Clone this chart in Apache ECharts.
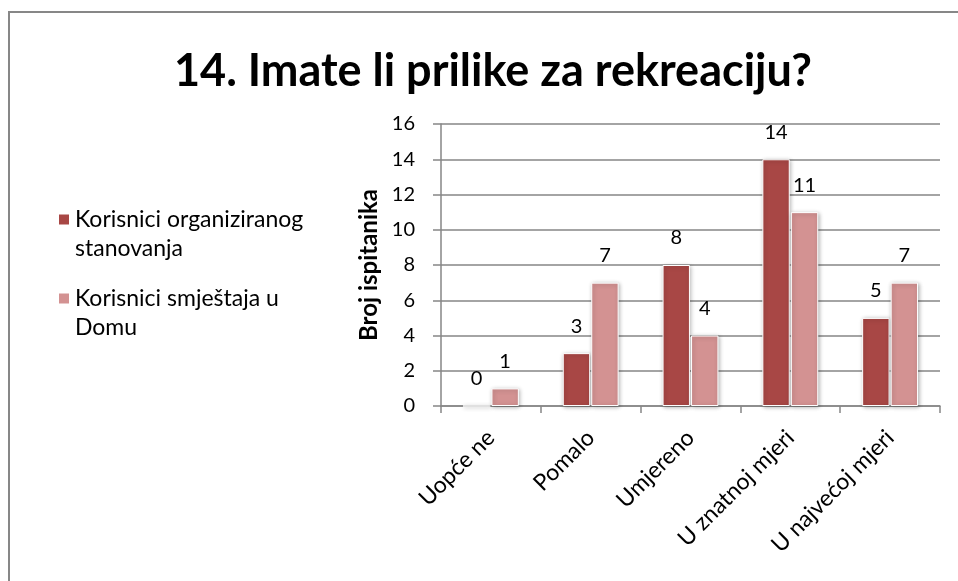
<!DOCTYPE html>
<html>
<head>
<meta charset="utf-8">
<script src="https://cdn.jsdelivr.net/npm/echarts@6/dist/echarts.min.js"></script>
<style>
  html, body { margin: 0; padding: 0; background: #fff; }
  #chart { width: 958px; height: 581px; }
</style>
</head>
<body>
<div id="chart"></div>
<script>
// kategorije odgovora
const categories = ["Uopće ne", "Pomalo", "Umjereno", "U znatnoj mjeri", "U najvećoj mjeri"];
// Korisnici organiziranog stanovanja
const organiziranoStanovanje = [0, 3, 8, 14, 5];
// Korisnici smještaja u Domu
const smjestajDom = [1, 7, 4, 11, 7];
const yTicks = [0, 2, 4, 6, 8, 10, 12, 14, 16];

const FONT = "Lato";
const chart = echarts.init(document.getElementById("chart"));

const barLabel = {
  show: true,
  position: "top",
  distance: 17,
  fontFamily: FONT,
  fontSize: 20,
  color: "#000",
};

// legenda: prazni prvi red da kvadratić stoji uz prvi red teksta
function legendItem(name, text, top) {
  return {
    data: [name],
    orient: "vertical",
    left: 52,
    top: top,
    itemWidth: 12,
    itemHeight: 12,
    icon: "rect",
    formatter: () => " \n" + text,
    textStyle: { fontFamily: FONT, fontSize: 23, color: "#000", lineHeight: 29 },
  };
}

const option = {
  backgroundColor: "#fff",
  animation: false,
  title: {
    text: "14. Imate li prilike za rekreaciju?",
    left: 488,
    textAlign: "center",
    top: 44,
    textStyle: { fontFamily: FONT, fontSize: 45, fontWeight: "bold", color: "#000" },
  },
  graphic: [
    {
      type: "polyline",
      shape: { points: [[9, 581], [9, 12], [958, 12]] },
      style: { stroke: "#878787", lineWidth: 2, fill: null },
    },
  ],
  legend: [
    legendItem("Korisnici organiziranog stanovanja", "Korisnici organiziranog\nstanovanja", 171),
    legendItem("Korisnici smještaja u Domu", "Korisnici smještaja u\nDomu", 250),
  ],
  grid: { left: 441, right: 18, top: 124, bottom: 175 },
  xAxis: {
    type: "category",
    data: categories,
    axisLine: { lineStyle: { color: "#868686", width: 1.5 } },
    axisTick: { show: true, length: 7, lineStyle: { color: "#868686", width: 1.5 } },
    axisLabel: {
      rotate: 45,
      margin: 28,
      fontFamily: FONT,
      fontSize: 23,
      color: "#000",
      interval: 0,
    },
  },
  yAxis: {
    type: "value",
    min: 0,
    max: yTicks[yTicks.length - 1],
    interval: 2,
    name: "Broj ispitanika",
    nameLocation: "middle",
    nameGap: 60,
    nameTextStyle: { fontFamily: FONT, fontSize: 24, fontWeight: "bold", color: "#000" },
    axisLine: { show: true, lineStyle: { color: "#868686", width: 1.5 } },
    axisTick: { show: true, length: 8, lineStyle: { color: "#868686", width: 1.5 } },
    axisLabel: { fontFamily: FONT, fontSize: 20, color: "#000", margin: 26 },
    splitLine: { lineStyle: { color: "#868686", width: 1.5 } },
  },
  series: [
    {
      name: "Korisnici organiziranog stanovanja",
      type: "bar",
      data: organiziranoStanovanje,
      barGap: "4%",
      barCategoryGap: "44%",
      itemStyle: {
        color: "#A84745",
        borderColor: "#fff",
        borderWidth: 1,
        shadowColor: "rgba(0,0,0,0.3)",
        shadowBlur: 4,
        shadowOffsetX: 1,
        shadowOffsetY: 1,
      },
      label: barLabel,
    },
    {
      name: "Korisnici smještaja u Domu",
      type: "bar",
      data: smjestajDom,
      itemStyle: {
        color: "#D39292",
        borderColor: "#fff",
        borderWidth: 1,
        shadowColor: "rgba(0,0,0,0.3)",
        shadowBlur: 4,
        shadowOffsetX: 1,
        shadowOffsetY: 1,
      },
      label: barLabel,
    },
  ],
};

chart.setOption(option);
</script>
</body>
</html>
